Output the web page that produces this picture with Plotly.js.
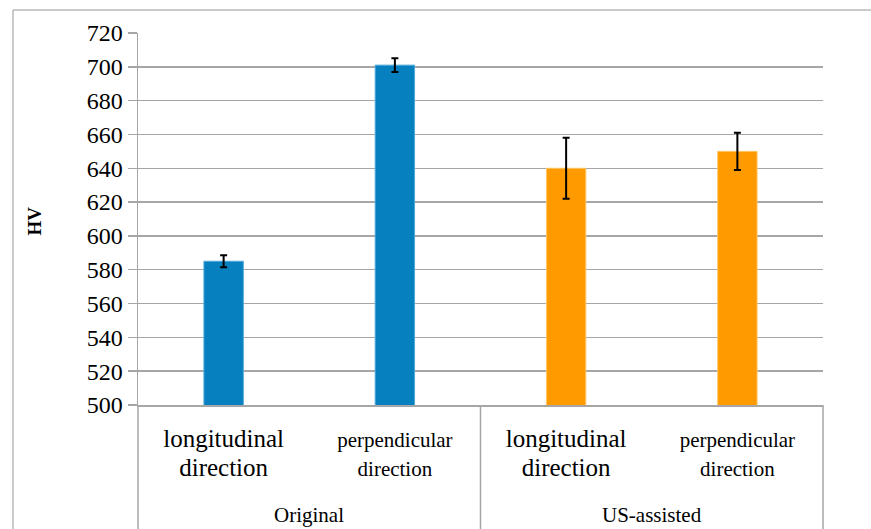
<!DOCTYPE html>
<html>
<head>
<meta charset="utf-8">
<script src="https://cdn.plot.ly/plotly-3.0.1.min.js"></script>
<style>html,body{margin:0;padding:0;background:#fff;}#chart{width:871px;height:529px;}</style>
</head>
<body>
<div id="chart"></div>
<script>
// ---- data ----
const categories = ['Original-longitudinal', 'Original-perpendicular', 'US-assisted-longitudinal', 'US-assisted-perpendicular'];
const groups = ['Original', 'US-assisted'];
const directionLines = [
  ['longitudinal', 'direction'],
  ['perpendicular', 'direction'],
  ['longitudinal', 'direction'],
  ['perpendicular', 'direction']
];
const hvValues = [585, 701, 640, 650];
const hvErrors = [3.5, 4, 18, 11];
const yTickValues = [500, 520, 540, 560, 580, 600, 620, 640, 660, 680, 700, 720];
const yTitle = 'HV';

// ---- styles ----
const barColors = ['#0780C0', '#0780C0', '#FF9B00', '#FF9B00'];
const barLineColors = ['#4FA8DA', '#4FA8DA', '#FFC766', '#FFC766'];
const labelSizes = [25, 21, 25, 21];
const serif = '"Liberation Serif", "Times New Roman", serif';

const tickText = directionLines.map((lines, i) =>
  '<span style="font-size:' + labelSizes[i] + 'px">' + lines.join('<br>') + '</span>');

const trace = {
  type: 'bar',
  x: categories,
  y: hvValues,
  width: 0.23,
  marker: {color: barColors, line: {color: barLineColors, width: 1}},
  error_y: {type: 'data', array: hvErrors, visible: true, color: '#000', thickness: 2, width: 3.5},
  hoverinfo: 'skip'
};

const gray = '#A6A6A6';
const bottomExt = -0.4;
const layout = {
  width: 871, height: 529,
  margin: {l: 138, r: 48, t: 33, b: 124},
  paper_bgcolor: '#fff', plot_bgcolor: '#fff',
  showlegend: false,
  font: {family: serif, color: '#000'},
  xaxis: {
    type: 'category',
    range: [-0.5, 3.5],
    tickvals: categories,
    ticktext: tickText,
    tickfont: {family: serif, size: 22, color: '#000'},
    ticks: '',
    showgrid: false,
    showline: true, linecolor: gray, linewidth: 1.5,
    zeroline: false,
    ticklabelstandoff: 14,
    fixedrange: true
  },
  yaxis: {
    range: [500, 720],
    tickvals: yTickValues,
    ticktext: yTickValues.map(String),
    tickfont: {family: serif, size: 24, color: '#000'},
    ticks: 'outside', ticklen: 9, tickcolor: gray, tickwidth: 1.5,
    showgrid: true, gridcolor: gray, gridwidth: 1.5,
    showline: true, linecolor: gray, linewidth: 1.5,
    zeroline: false,
    fixedrange: true
  },
  shapes: [
    // category box vertical separators
    {type: 'line', xref: 'paper', yref: 'paper', x0: 0, x1: 0, y0: 0, y1: bottomExt, line: {color: gray, width: 1.5}},
    {type: 'line', xref: 'paper', yref: 'paper', x0: 0.5, x1: 0.5, y0: 0, y1: bottomExt, line: {color: gray, width: 1.5}},
    {type: 'line', xref: 'paper', yref: 'paper', x0: 1, x1: 1, y0: 0, y1: bottomExt, line: {color: gray, width: 1.5}},
    // outer chart border (left + top)
    {type: 'line', xref: 'paper', yref: 'paper', x0: -0.1825, x1: -0.1825, y0: 1.0618, y1: bottomExt, line: {color: '#B8B8B8', width: 1.5}},
    {type: 'line', xref: 'paper', yref: 'paper', x0: -0.1825, x1: 1.1, y0: 1.0618, y1: 1.0618, line: {color: '#B8B8B8', width: 1.5}}
  ],
  annotations: [
    {text: '<b>' + yTitle + '</b>', xref: 'paper', yref: 'paper', x: -0.151, y: 0.495, textangle: -90,
     showarrow: false, font: {family: serif, size: 19, color: '#000'}, xanchor: 'center', yanchor: 'middle'},
    {text: groups[0], xref: 'paper', yref: 'paper', x: 0.25, y: -0.295, showarrow: false,
     font: {family: serif, size: 21, color: '#000'}, xanchor: 'center', yanchor: 'middle'},
    {text: groups[1], xref: 'paper', yref: 'paper', x: 0.75, y: -0.295, showarrow: false,
     font: {family: serif, size: 21, color: '#000'}, xanchor: 'center', yanchor: 'middle'}
  ]
};

Plotly.newPlot('chart', [trace], layout, {displayModeBar: false, staticPlot: true});
</script>
</body>
</html>
